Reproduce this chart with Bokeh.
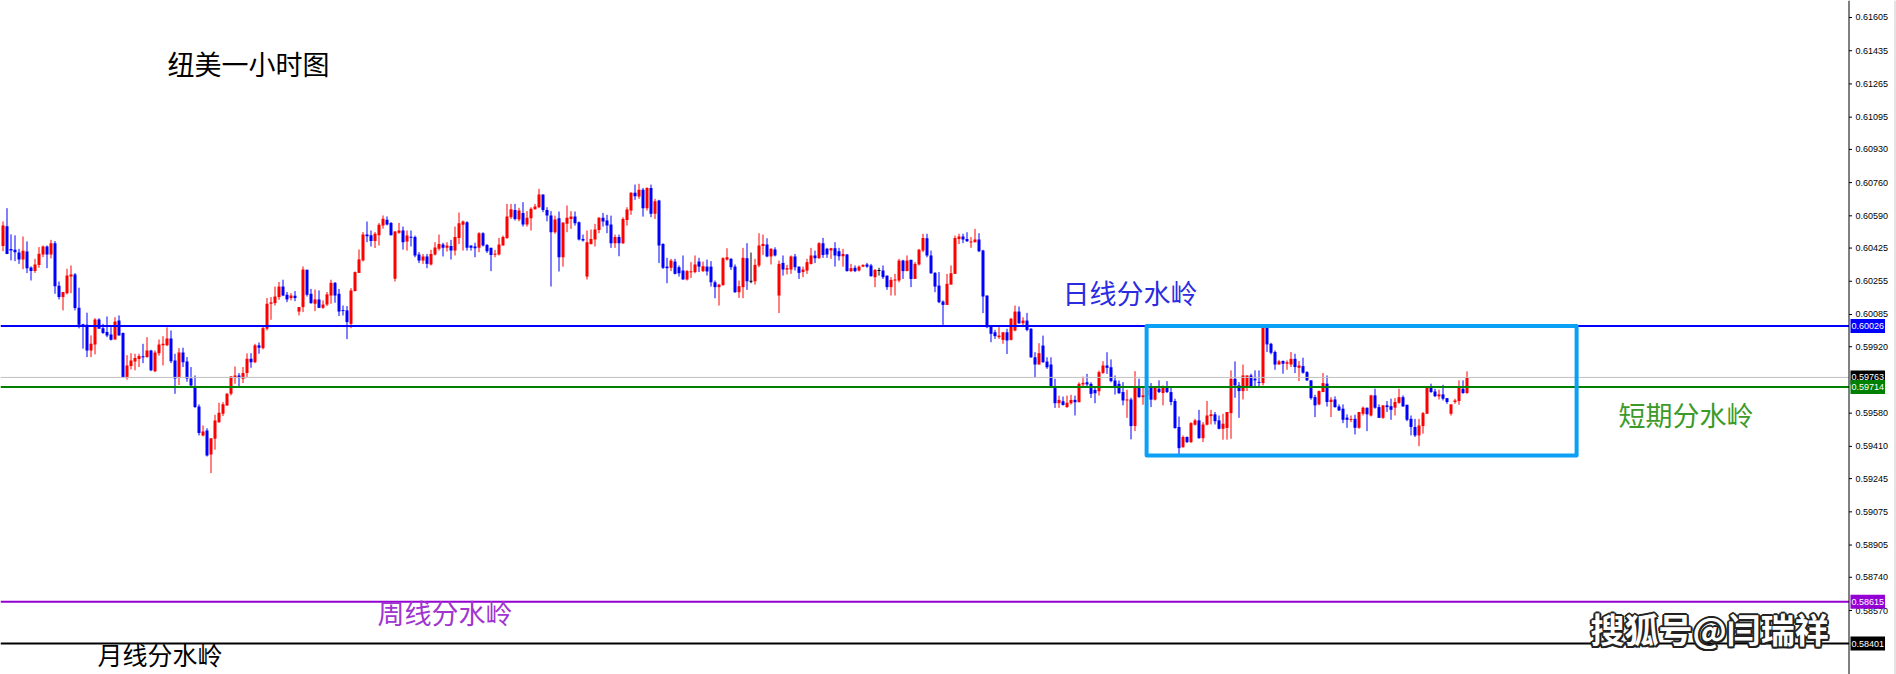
from bokeh.plotting import figure
from bokeh.models import ColumnDataSource, Span, Label, Range1d
from bokeh.core.properties import value
from bokeh.embed import file_html
from bokeh.resources import INLINE

# ---------------- data (NZDUSD H1) ----------------
opens = [
    0.60435, 0.60536, 0.60420, 0.60416, 0.60402, 0.60367, 0.60408, 0.60326, 0.60307, 0.60338,
    0.60392, 0.60433, 0.60392, 0.60450, 0.60232, 0.60174, 0.60194, 0.60280, 0.60290, 0.60119,
    0.60034, 0.60032, 0.59901, 0.59932, 0.60060, 0.60015, 0.59995, 0.59983, 0.59957, 0.60054,
    0.59990, 0.59764, 0.59822, 0.59845, 0.59857, 0.59870, 0.59867, 0.59901, 0.59795, 0.59887,
    0.59927, 0.59928, 0.59962, 0.59850, 0.59761, 0.59891, 0.59845, 0.59758, 0.59718, 0.59614,
    0.59466, 0.59491, 0.59369, 0.59449, 0.59534, 0.59577, 0.59619, 0.59679, 0.59764, 0.59773,
    0.59756, 0.59785, 0.59858, 0.59841, 0.59927, 0.59913, 0.60012, 0.60140, 0.60143, 0.60174,
    0.60228, 0.60186, 0.60169, 0.60181, 0.60100, 0.60123, 0.60314, 0.60191, 0.60140, 0.60162,
    0.60119, 0.60136, 0.60182, 0.60247, 0.60191, 0.60106, 0.60106, 0.60037, 0.60205, 0.60298,
    0.60362, 0.60495, 0.60490, 0.60461, 0.60490, 0.60541, 0.60570, 0.60553, 0.60268, 0.60503,
    0.60515, 0.60458, 0.60482, 0.60481, 0.60392, 0.60361, 0.60382, 0.60341, 0.60392, 0.60421,
    0.60443, 0.60426, 0.60436, 0.60412, 0.60477, 0.60544, 0.60557, 0.60438, 0.60433, 0.60426,
    0.60501, 0.60441, 0.60426, 0.60392, 0.60392, 0.60438, 0.60477, 0.60583, 0.60620, 0.60571,
    0.60605, 0.60545, 0.60578, 0.60624, 0.60634, 0.60699, 0.60620, 0.60591, 0.60506, 0.60578,
    0.60378, 0.60549, 0.60574, 0.60586, 0.60557, 0.60472, 0.60279, 0.60446, 0.60469, 0.60518,
    0.60580, 0.60566, 0.60545, 0.60450, 0.60481, 0.60450, 0.60569, 0.60617, 0.60708, 0.60689,
    0.60723, 0.60629, 0.60733, 0.60600, 0.60668, 0.60446, 0.60330, 0.60324, 0.60356, 0.60327,
    0.60310, 0.60264, 0.60302, 0.60302, 0.60356, 0.60307, 0.60330, 0.60330, 0.60250, 0.60225,
    0.60235, 0.60366, 0.60370, 0.60330, 0.60199, 0.60225, 0.60373, 0.60255, 0.60255, 0.60336,
    0.60436, 0.60443, 0.60382, 0.60417, 0.60182, 0.60349, 0.60315, 0.60315, 0.60382, 0.60330,
    0.60302, 0.60310, 0.60344, 0.60387, 0.60373, 0.60450, 0.60421, 0.60412, 0.60424, 0.60409,
    0.60383, 0.60392, 0.60307, 0.60324, 0.60310, 0.60330, 0.60341, 0.60336, 0.60276, 0.60310,
    0.60310, 0.60284, 0.60225, 0.60259, 0.60259, 0.60361, 0.60307, 0.60365, 0.60267, 0.60341,
    0.60412, 0.60475, 0.60387, 0.60298, 0.60233, 0.60151, 0.60134, 0.60238, 0.60293, 0.60472,
    0.60484, 0.60472, 0.60455, 0.60455, 0.60469, 0.60412, 0.60182, 0.60023, 0.59994, 0.59969,
    0.59955, 0.59994, 0.59955, 0.60003, 0.60100, 0.60040, 0.60054, 0.60012, 0.59866, 0.59829,
    0.59926, 0.59844, 0.59829, 0.59713, 0.59631, 0.59641, 0.59611, 0.59631, 0.59648, 0.59636,
    0.59727, 0.59738, 0.59730, 0.59699, 0.59692, 0.59786, 0.59824, 0.59815, 0.59747, 0.59730,
    0.59688, 0.59645, 0.59650, 0.59514, 0.59713, 0.59662, 0.59671, 0.59710, 0.59649, 0.59705,
    0.59683, 0.59710, 0.59688, 0.59642, 0.59509, 0.59406, 0.59458, 0.59432, 0.59521, 0.59543,
    0.59452, 0.59521, 0.59565, 0.59574, 0.59543, 0.59500, 0.59504, 0.59580, 0.59756, 0.59722,
    0.59693, 0.59710, 0.59773, 0.59756, 0.59739, 0.59734, 0.60021, 0.59935, 0.59893, 0.59829,
    0.59847, 0.59833, 0.59829, 0.59858, 0.59812, 0.59821, 0.59790, 0.59748, 0.59662, 0.59625,
    0.59688, 0.59731, 0.59637, 0.59650, 0.59614, 0.59603, 0.59557, 0.59546, 0.59551, 0.59505,
    0.59577, 0.59608, 0.59568, 0.59671, 0.59611, 0.59556, 0.59620, 0.59616, 0.59608, 0.59633,
    0.59662, 0.59623, 0.59551, 0.59509, 0.59466, 0.59514, 0.59577, 0.59713, 0.59691, 0.59666,
    0.59676, 0.59657, 0.59577, 0.59637, 0.59642, 0.59705, 0.59683,
]
highs = [
    0.60561, 0.60629, 0.60495, 0.60490, 0.60421, 0.60484, 0.60459, 0.60331, 0.60370, 0.60430,
    0.60438, 0.60438, 0.60467, 0.60461, 0.60254, 0.60200, 0.60319, 0.60336, 0.60297, 0.60222,
    0.60037, 0.60094, 0.59978, 0.60066, 0.60066, 0.60037, 0.60075, 0.60020, 0.60071, 0.60080,
    0.59993, 0.59877, 0.59887, 0.59884, 0.59884, 0.59935, 0.59969, 0.59904, 0.59901, 0.59957,
    0.59974, 0.60019, 0.60003, 0.59884, 0.59913, 0.59915, 0.59867, 0.59816, 0.59773, 0.59625,
    0.59517, 0.59503, 0.59451, 0.59572, 0.59633, 0.59636, 0.59683, 0.59770, 0.59819, 0.59785,
    0.59816, 0.59886, 0.59887, 0.59935, 0.59942, 0.60027, 0.60169, 0.60174, 0.60228, 0.60251,
    0.60263, 0.60200, 0.60194, 0.60205, 0.60123, 0.60331, 0.60314, 0.60216, 0.60213, 0.60208,
    0.60157, 0.60200, 0.60263, 0.60251, 0.60216, 0.60131, 0.60128, 0.60220, 0.60305, 0.60418,
    0.60507, 0.60561, 0.60515, 0.60507, 0.60553, 0.60592, 0.60587, 0.60558, 0.60512, 0.60554,
    0.60535, 0.60515, 0.60515, 0.60489, 0.60404, 0.60395, 0.60395, 0.60416, 0.60455, 0.60494,
    0.60452, 0.60455, 0.60467, 0.60535, 0.60607, 0.60566, 0.60562, 0.60438, 0.60452, 0.60506,
    0.60506, 0.60446, 0.60426, 0.60416, 0.60477, 0.60489, 0.60651, 0.60651, 0.60651, 0.60631,
    0.60660, 0.60614, 0.60634, 0.60651, 0.60728, 0.60699, 0.60634, 0.60614, 0.60591, 0.60612,
    0.60556, 0.60643, 0.60614, 0.60612, 0.60561, 0.60494, 0.60515, 0.60520, 0.60549, 0.60583,
    0.60605, 0.60595, 0.60591, 0.60494, 0.60494, 0.60583, 0.60634, 0.60711, 0.60750, 0.60754,
    0.60733, 0.60736, 0.60750, 0.60677, 0.60672, 0.60450, 0.60375, 0.60370, 0.60370, 0.60336,
    0.60387, 0.60313, 0.60353, 0.60387, 0.60375, 0.60356, 0.60366, 0.60358, 0.60259, 0.60242,
    0.60378, 0.60424, 0.60373, 0.60341, 0.60259, 0.60426, 0.60450, 0.60402, 0.60370, 0.60501,
    0.60494, 0.60475, 0.60424, 0.60429, 0.60361, 0.60387, 0.60339, 0.60387, 0.60395, 0.60330,
    0.60330, 0.60370, 0.60426, 0.60412, 0.60455, 0.60477, 0.60426, 0.60426, 0.60455, 0.60426,
    0.60421, 0.60395, 0.60344, 0.60336, 0.60336, 0.60341, 0.60349, 0.60344, 0.60318, 0.60324,
    0.60336, 0.60284, 0.60276, 0.60293, 0.60370, 0.60365, 0.60387, 0.60365, 0.60353, 0.60421,
    0.60498, 0.60498, 0.60412, 0.60302, 0.60302, 0.60157, 0.60293, 0.60336, 0.60489, 0.60498,
    0.60498, 0.60506, 0.60481, 0.60523, 0.60501, 0.60416, 0.60182, 0.60023, 0.60006, 0.60020,
    0.59994, 0.60012, 0.60068, 0.60131, 0.60126, 0.60071, 0.60093, 0.60015, 0.59892, 0.59938,
    0.59977, 0.59866, 0.59866, 0.59756, 0.59670, 0.59665, 0.59670, 0.59674, 0.59670, 0.59738,
    0.59767, 0.59781, 0.59738, 0.59713, 0.59798, 0.59846, 0.59892, 0.59855, 0.59773, 0.59747,
    0.59739, 0.59700, 0.59659, 0.59795, 0.59756, 0.59717, 0.59720, 0.59734, 0.59717, 0.59748,
    0.59722, 0.59744, 0.59710, 0.59654, 0.59563, 0.59466, 0.59461, 0.59534, 0.59551, 0.59597,
    0.59534, 0.59642, 0.59597, 0.59586, 0.59568, 0.59577, 0.59586, 0.59799, 0.59845, 0.59739,
    0.59829, 0.59773, 0.59782, 0.59799, 0.59799, 0.60021, 0.60021, 0.59940, 0.59901, 0.59853,
    0.59850, 0.59850, 0.59893, 0.59884, 0.59847, 0.59864, 0.59795, 0.59748, 0.59674, 0.59696,
    0.59785, 0.59773, 0.59662, 0.59666, 0.59625, 0.59625, 0.59574, 0.59568, 0.59572, 0.59586,
    0.59614, 0.59608, 0.59674, 0.59705, 0.59625, 0.59620, 0.59642, 0.59654, 0.59657, 0.59705,
    0.59671, 0.59623, 0.59568, 0.59551, 0.59551, 0.59586, 0.59717, 0.59731, 0.59705, 0.59700,
    0.59725, 0.59657, 0.59625, 0.59654, 0.59748, 0.59748, 0.59794,
]
lows = [
    0.60409, 0.60394, 0.60362, 0.60358, 0.60344, 0.60317, 0.60297, 0.60259, 0.60298, 0.60324,
    0.60379, 0.60322, 0.60372, 0.60191, 0.60162, 0.60106, 0.60188, 0.60194, 0.60106, 0.60014,
    0.59910, 0.59867, 0.59867, 0.59881, 0.60012, 0.59986, 0.59969, 0.59952, 0.59957, 0.59978,
    0.59764, 0.59752, 0.59804, 0.59799, 0.59816, 0.59836, 0.59863, 0.59795, 0.59790, 0.59874,
    0.59824, 0.59923, 0.59836, 0.59679, 0.59724, 0.59816, 0.59741, 0.59718, 0.59606, 0.59466,
    0.59461, 0.59358, 0.59273, 0.59393, 0.59531, 0.59565, 0.59618, 0.59671, 0.59730, 0.59710,
    0.59734, 0.59764, 0.59812, 0.59836, 0.59884, 0.59906, 0.60003, 0.60058, 0.60131, 0.60160,
    0.60179, 0.60148, 0.60157, 0.60153, 0.60080, 0.60097, 0.60177, 0.60140, 0.60102, 0.60118,
    0.60114, 0.60128, 0.60140, 0.60145, 0.60077, 0.60080, 0.59959, 0.60015, 0.60203, 0.60297,
    0.60356, 0.60455, 0.60433, 0.60425, 0.60438, 0.60524, 0.60541, 0.60490, 0.60254, 0.60498,
    0.60417, 0.60412, 0.60433, 0.60378, 0.60348, 0.60344, 0.60322, 0.60336, 0.60387, 0.60412,
    0.60382, 0.60407, 0.60366, 0.60387, 0.60446, 0.60412, 0.60412, 0.60412, 0.60378, 0.60404,
    0.60433, 0.60400, 0.60307, 0.60378, 0.60387, 0.60438, 0.60472, 0.60574, 0.60566, 0.60562,
    0.60535, 0.60535, 0.60515, 0.60622, 0.60629, 0.60609, 0.60562, 0.60228, 0.60498, 0.60305,
    0.60330, 0.60506, 0.60523, 0.60540, 0.60464, 0.60458, 0.60264, 0.60443, 0.60433, 0.60501,
    0.60535, 0.60501, 0.60426, 0.60426, 0.60383, 0.60446, 0.60540, 0.60595, 0.60672, 0.60677,
    0.60586, 0.60617, 0.60583, 0.60574, 0.60348, 0.60318, 0.60245, 0.60307, 0.60290, 0.60279,
    0.60264, 0.60259, 0.60272, 0.60296, 0.60302, 0.60302, 0.60284, 0.60228, 0.60168, 0.60131,
    0.60233, 0.60361, 0.60313, 0.60196, 0.60170, 0.60168, 0.60211, 0.60245, 0.60238, 0.60327,
    0.60390, 0.60378, 0.60341, 0.60382, 0.60092, 0.60284, 0.60290, 0.60293, 0.60310, 0.60267,
    0.60276, 0.60293, 0.60341, 0.60348, 0.60370, 0.60375, 0.60375, 0.60370, 0.60330, 0.60361,
    0.60330, 0.60305, 0.60302, 0.60302, 0.60305, 0.60327, 0.60324, 0.60279, 0.60225, 0.60284,
    0.60267, 0.60211, 0.60182, 0.60182, 0.60250, 0.60267, 0.60307, 0.60225, 0.60267, 0.60336,
    0.60404, 0.60378, 0.60293, 0.60199, 0.60143, 0.60032, 0.60134, 0.60238, 0.60293, 0.60446,
    0.60450, 0.60457, 0.60426, 0.60455, 0.60404, 0.60092, 0.60015, 0.59943, 0.59960, 0.59960,
    0.59935, 0.59883, 0.59952, 0.59999, 0.60037, 0.60020, 0.59999, 0.59863, 0.59764, 0.59829,
    0.59837, 0.59807, 0.59709, 0.59607, 0.59607, 0.59619, 0.59607, 0.59624, 0.59568, 0.59636,
    0.59716, 0.59709, 0.59658, 0.59631, 0.59670, 0.59781, 0.59781, 0.59738, 0.59675, 0.59679,
    0.59620, 0.59556, 0.59446, 0.59488, 0.59659, 0.59623, 0.59650, 0.59611, 0.59645, 0.59683,
    0.59620, 0.59683, 0.59620, 0.59500, 0.59369, 0.59403, 0.59427, 0.59427, 0.59517, 0.59449,
    0.59432, 0.59517, 0.59522, 0.59522, 0.59497, 0.59444, 0.59444, 0.59449, 0.59659, 0.59556,
    0.59650, 0.59693, 0.59708, 0.59710, 0.59717, 0.59722, 0.59893, 0.59881, 0.59802, 0.59829,
    0.59782, 0.59802, 0.59816, 0.59785, 0.59744, 0.59782, 0.59744, 0.59649, 0.59560, 0.59620,
    0.59688, 0.59614, 0.59560, 0.59608, 0.59591, 0.59529, 0.59505, 0.59534, 0.59471, 0.59500,
    0.59568, 0.59488, 0.59563, 0.59603, 0.59556, 0.59551, 0.59586, 0.59546, 0.59568, 0.59628,
    0.59614, 0.59539, 0.59466, 0.59458, 0.59411, 0.59475, 0.59577, 0.59684, 0.59662, 0.59650,
    0.59645, 0.59628, 0.59568, 0.59628, 0.59623, 0.59679, 0.59679,
]
closes = [
    0.60541, 0.60394, 0.60413, 0.60404, 0.60367, 0.60411, 0.60322, 0.60307, 0.60341, 0.60396,
    0.60433, 0.60392, 0.60450, 0.60230, 0.60174, 0.60200, 0.60285, 0.60290, 0.60118, 0.60032,
    0.60030, 0.59901, 0.59935, 0.60060, 0.60012, 0.59990, 0.59978, 0.59956, 0.60049, 0.59978,
    0.59764, 0.59824, 0.59850, 0.59862, 0.59872, 0.59868, 0.59901, 0.59799, 0.59891, 0.59932,
    0.59935, 0.59962, 0.59846, 0.59758, 0.59891, 0.59841, 0.59758, 0.59722, 0.59611, 0.59478,
    0.59486, 0.59363, 0.59451, 0.59543, 0.59582, 0.59625, 0.59679, 0.59768, 0.59773, 0.59761,
    0.59785, 0.59858, 0.59841, 0.59927, 0.59915, 0.60015, 0.60140, 0.60147, 0.60177, 0.60228,
    0.60182, 0.60162, 0.60182, 0.60169, 0.60123, 0.60315, 0.60186, 0.60143, 0.60162, 0.60119,
    0.60136, 0.60188, 0.60247, 0.60182, 0.60100, 0.60104, 0.60046, 0.60208, 0.60302, 0.60367,
    0.60495, 0.60486, 0.60461, 0.60498, 0.60544, 0.60575, 0.60546, 0.60490, 0.60510, 0.60515,
    0.60455, 0.60489, 0.60479, 0.60387, 0.60361, 0.60382, 0.60344, 0.60395, 0.60428, 0.60446,
    0.60426, 0.60438, 0.60412, 0.60481, 0.60552, 0.60561, 0.60426, 0.60426, 0.60424, 0.60501,
    0.60438, 0.60409, 0.60390, 0.60395, 0.60443, 0.60481, 0.60586, 0.60624, 0.60574, 0.60617,
    0.60545, 0.60580, 0.60626, 0.60638, 0.60699, 0.60620, 0.60591, 0.60506, 0.60571, 0.60378,
    0.60556, 0.60580, 0.60586, 0.60552, 0.60469, 0.60464, 0.60455, 0.60472, 0.60520, 0.60580,
    0.60561, 0.60540, 0.60450, 0.60481, 0.60450, 0.60574, 0.60622, 0.60708, 0.60690, 0.60723,
    0.60629, 0.60733, 0.60600, 0.60665, 0.60438, 0.60324, 0.60322, 0.60361, 0.60293, 0.60296,
    0.60264, 0.60307, 0.60305, 0.60341, 0.60330, 0.60332, 0.60305, 0.60250, 0.60225, 0.60238,
    0.60373, 0.60378, 0.60327, 0.60199, 0.60230, 0.60375, 0.60255, 0.60255, 0.60339, 0.60438,
    0.60446, 0.60382, 0.60421, 0.60387, 0.60344, 0.60315, 0.60322, 0.60382, 0.60327, 0.60298,
    0.60315, 0.60353, 0.60387, 0.60373, 0.60450, 0.60390, 0.60392, 0.60424, 0.60387, 0.60383,
    0.60395, 0.60307, 0.60322, 0.60307, 0.60330, 0.60339, 0.60330, 0.60281, 0.60313, 0.60310,
    0.60276, 0.60225, 0.60262, 0.60264, 0.60361, 0.60307, 0.60361, 0.60267, 0.60344, 0.60416,
    0.60477, 0.60387, 0.60296, 0.60228, 0.60148, 0.60134, 0.60242, 0.60296, 0.60477, 0.60484,
    0.60469, 0.60460, 0.60458, 0.60469, 0.60409, 0.60177, 0.60020, 0.59986, 0.59974, 0.59977,
    0.59994, 0.59952, 0.60063, 0.60100, 0.60040, 0.60054, 0.60006, 0.59866, 0.59829, 0.59887,
    0.59841, 0.59815, 0.59713, 0.59631, 0.59648, 0.59622, 0.59633, 0.59648, 0.59636, 0.59730,
    0.59735, 0.59727, 0.59679, 0.59682, 0.59790, 0.59824, 0.59812, 0.59744, 0.59713, 0.59682,
    0.59645, 0.59650, 0.59514, 0.59717, 0.59662, 0.59671, 0.59700, 0.59649, 0.59710, 0.59688,
    0.59710, 0.59688, 0.59637, 0.59504, 0.59401, 0.59458, 0.59432, 0.59529, 0.59543, 0.59452,
    0.59522, 0.59568, 0.59574, 0.59539, 0.59500, 0.59526, 0.59586, 0.59756, 0.59722, 0.59693,
    0.59773, 0.59773, 0.59717, 0.59748, 0.59736, 0.60021, 0.59932, 0.59889, 0.59829, 0.59845,
    0.59833, 0.59841, 0.59858, 0.59816, 0.59824, 0.59787, 0.59748, 0.59657, 0.59620, 0.59693,
    0.59734, 0.59637, 0.59649, 0.59611, 0.59594, 0.59546, 0.59546, 0.59550, 0.59505, 0.59586,
    0.59608, 0.59574, 0.59671, 0.59608, 0.59556, 0.59620, 0.59611, 0.59597, 0.59637, 0.59662,
    0.59614, 0.59546, 0.59509, 0.59466, 0.59517, 0.59580, 0.59713, 0.59688, 0.59667, 0.59676,
    0.59654, 0.59637, 0.59625, 0.59645, 0.59710, 0.59683, 0.59763,
]
bar_index = list(range(1, len(opens) + 1))

price_ticks = [0.61605, 0.61435, 0.61265, 0.61095, 0.60930, 0.60760, 0.60590, 0.60425,
               0.60255, 0.60085, 0.59920, 0.59580, 0.59410, 0.59245, 0.59075, 0.58905,
               0.58740, 0.58570]
tick_labels = ["%.5f" % t for t in price_ticks]

# horizontal levels drawn by the author + current bid line
level_prices = [0.60026, 0.59763, 0.59714, 0.58615, 0.58401]
level_texts = ["0.60026", "0.59763", "0.59714", "0.58615", "0.58401"]
level_colors = ["#0000FF", "#C0C0C0", "#008000", "#9400D3", "#000000"]
level_label_bg = ["#0000FF", "#000000", "#008000", "#9400D3", "#000000"]
level_widths = [2, 1, 2, 2, 2]

# consolidation box (bar index / price)
box_bars = [286.9, 394.4]
box_prices = [0.60026, 0.59363]

# ---------------- figure ----------------
PX_PER_PRICE = 19539.0          # vertical scale of the MT4 chart
W, H = 1896, 674
x_start = 0.375
x_end = x_start + W / 4.0       # 4 px per hourly bar
y_top = 0.616920
y_bottom = y_top - H / PX_PER_PRICE
axis_x = 462.5                  # price-scale line position (bar units)

p = figure(width=W, height=H,
           x_range=Range1d(x_start, x_end), y_range=Range1d(y_bottom, y_top),
           output_backend="svg", toolbar_location=None,
           x_axis_location=None, y_axis_location=None,
           min_border=0, min_border_left=0, min_border_right=0,
           min_border_top=0, min_border_bottom=0,
           background_fill_color="white", border_fill_color="white",
           outline_line_color=None)
p.grid.visible = False

# candles
min_h = 1.0 / PX_PER_PRICE
colors, btop, bbot = [], [], []
for o, c in zip(opens, closes):
    if c > o:
        colors.append("#FF0000")
    elif c < o:
        colors.append("#0000FF")
    else:
        colors.append("#000000")
    t, b = max(o, c), min(o, c)
    if t - b < min_h:
        m = (t + b) / 2
        t, b = m + min_h / 2, m - min_h / 2
    btop.append(t)
    bbot.append(b)

src = ColumnDataSource(dict(x=bar_index, open=opens, high=highs, low=lows, close=closes,
                            color=colors, body_top=btop, body_bot=bbot))
p.segment(x0="x", y0="low", x1="x", y1="high", line_color="color", line_width=1, source=src)
p.vbar(x="x", width=0.75, top="body_top", bottom="body_bot", fill_color="color",
       line_color=None, source=src)

# level lines (stop at the price scale)
nlev = len(level_prices)
p.segment(x0=[x_start] * nlev, x1=[axis_x] * nlev, y0=level_prices, y1=level_prices,
          line_color=level_colors, line_width=level_widths)

# box
p.quad(left=[box_bars[0]], right=[box_bars[1]], top=[box_prices[0]], bottom=[box_prices[1]],
       fill_color=None, line_color="#0AA0F5", line_width=4, line_join="round")

# price scale on the right (MT4 style)
p.add_layout(Span(location=axis_x, dimension="height", line_color="black", line_width=1))
p.add_layout(Span(location=x_start + 1894.5 / 4.0, dimension="height",
                  line_color="#C8C8C8", line_width=1))
nt = len(price_ticks)
p.segment(x0=[axis_x] * nt, x1=[axis_x + 0.75] * nt, y0=price_ticks, y1=price_ticks,
          line_color="black", line_width=1)
p.text(x=[axis_x + 1.625] * nt, y=price_ticks, text=tick_labels,
       text_font=value("Liberation Sans"), text_font_size="9px", text_color="black",
       text_align="left", text_baseline="middle")

for price, txt, bg in zip(level_prices, level_texts, level_label_bg):
    p.add_layout(Label(x=axis_x + 0.375, y=price, text=txt, text_color="white",
                       text_font="Liberation Sans", text_font_size="9px",
                       text_align="left", text_baseline="middle",
                       background_fill_color=bg, padding=(1, 4)))

# annotations
cjk = "Noto Sans CJK SC"
notes = [
    ("纽美一小时图", 42.1, 0.613696, "#000000", "27px"),
    ("日线分水岭", 265.9, 0.601976, "#2B2BE0", "27px"),
    ("短期分水岭", 404.9, 0.595757, "#3C9A28", "27px"),
    ("周线分水岭", 94.6, 0.585598, "#A035D0", "27px"),
    ("月线分水岭", 24.6, 0.583450, "#000000", "25px"),
]
for txt, xx, yy, col, fs in notes:
    p.add_layout(Label(x=xx, y=yy, text=txt, text_color=col, text_font=cjk,
                       text_font_size=fs, text_align="left", text_baseline="middle"))

# watermark (white text with dark outline)
wm_x, wm_y = 397.9, 0.584779
for dx, dy in [(-2, 0), (2, 0), (0, -2), (0, 2), (-1.5, -1.5), (1.5, 1.5), (-1.5, 1.5), (1.5, -1.5)]:
    p.add_layout(Label(x=wm_x, y=wm_y, x_offset=dx, y_offset=dy, text="搜狐号@闫瑞祥",
                       text_color="#222222", text_font=cjk, text_font_size="34px",
                       text_font_style="bold", text_align="left", text_baseline="middle"))
p.add_layout(Label(x=wm_x, y=wm_y, text="搜狐号@闫瑞祥", text_color="white", text_font=cjk,
                   text_font_size="34px", text_font_style="bold", text_align="left",
                   text_baseline="middle"))

open("out.html", "w").write(file_html(p, INLINE, title="NZDUSD H1"))
